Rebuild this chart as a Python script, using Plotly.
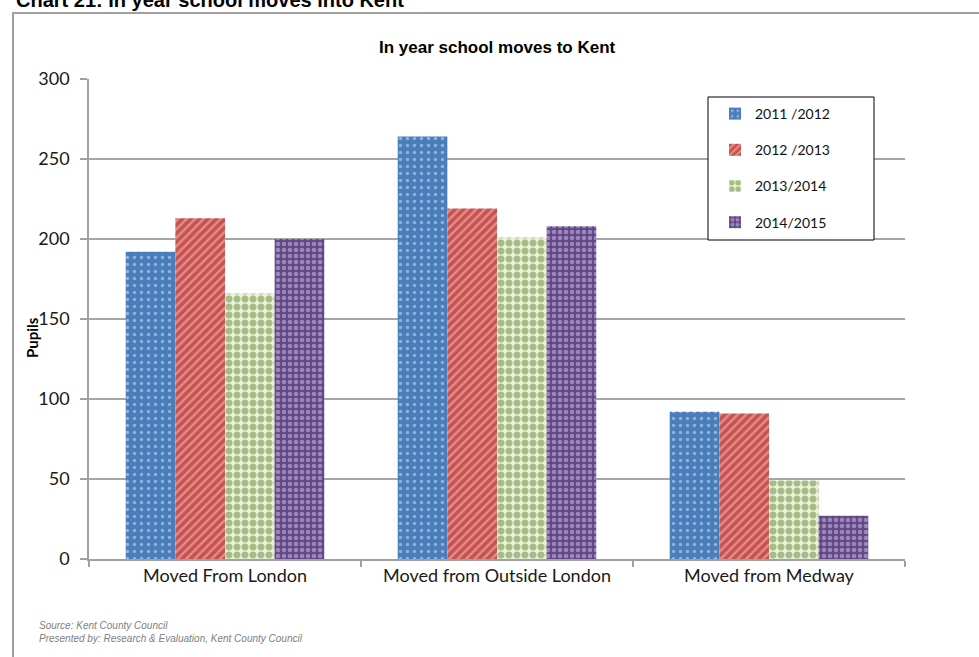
import plotly.graph_objects as go

categories = ["Moved From London", "Moved from Outside London", "Moved from Medway"]
series_names = ["2011 /2012", "2012 /2013", "2013/2014", "2014/2015"]
v_2011_2012 = [192, 264, 92]
v_2012_2013 = [213, 219, 91]
v_2013_2014 = [166, 201, 49]
v_2014_2015 = [200, 208, 27]
y_ticks = [0, 50, 100, 150, 200, 250, 300]

values = [v_2011_2012, v_2012_2013, v_2013_2014, v_2014_2015]
patterns = [
    dict(shape=".", bgcolor="#4A7EBB", fgcolor="#DCE6F4", size=7, solidity=0.18, fillmode="overlay"),
    dict(shape="/", bgcolor="#C9504D", fgcolor="#F2D0CF", size=6, solidity=0.4, fillmode="overlay"),
    dict(shape=".", bgcolor="#EAF0DC", fgcolor="#5F8A2C", size=8, solidity=0.6, fillmode="overlay"),
    dict(shape=".", bgcolor="#624889", fgcolor="#D3C8E2", size=6, solidity=0.45, fillmode="overlay"),
]
base_colors = ["#4A7EBB", "#C9504D", "#EAF0DC", "#624889"]

fig = go.Figure()
for i, (name, vals) in enumerate(zip(series_names, values)):
    fig.add_trace(go.Bar(
        x=categories, y=vals, name=name,
        legendgroup=f"g{i}",
        marker=dict(color=base_colors[i], pattern=patterns[i], line=dict(width=0)),
    ))

L, R, T, B = 89, 74, 79, 98
W, H = 979, 657
pw, ph = W - L - R, H - T - B

def px(xp):
    return (xp - L) / pw

def py(yp):
    return (H - B - yp) / ph

fig.update_layout(
    width=W, height=H,
    margin=dict(l=L, r=R, t=T, b=B, autoexpand=False),
    paper_bgcolor="white", plot_bgcolor="white",
    barmode="group", bargap=0.27, bargroupgap=0,
    font=dict(family="Lato", color="#262626"),
    showlegend=True,
    legend=dict(
        x=px(715), y=py(98), xanchor="left", yanchor="top",
        borderwidth=0, bgcolor="rgba(0,0,0,0)",
        font=dict(family="Lato", size=14, color="#111111"),
        traceorder="grouped", tracegroupgap=15,
    ),
    xaxis=dict(
        type="category", tickson="boundaries",
        showline=True, linecolor="#a0a0a0", linewidth=1.5,
        ticks="outside", ticklen=6, tickcolor="#a0a0a0", tickwidth=1.5,
        tickfont=dict(family="Lato", size=18, color="#1a1a1a"),
        showgrid=False,
    ),
    yaxis=dict(
        range=[0, 300], tickvals=y_ticks,
        showline=True, linecolor="#a0a0a0", linewidth=1.5,
        ticks="outside", ticklen=7, tickcolor="#a0a0a0", tickwidth=1.5,
        tickfont=dict(family="Lato", size=18, color="#1a1a1a"),
        ticklabelstandoff=7,
        showgrid=True, gridcolor="#a6a6a6", gridwidth=1.5,
        zeroline=False,
    ),
)

# outer frame
fig.add_shape(type="rect", xref="paper", yref="paper",
              x0=px(13), x1=px(1000), y0=py(700), y1=py(13),
              line=dict(color="#a0a0a0", width=2), fillcolor="rgba(0,0,0,0)", layer="below")

# legend box
fig.add_shape(type="rect", xref="paper", yref="paper",
              x0=px(708), x1=px(874), y0=py(240), y1=py(97),
              line=dict(color="black", width=1), fillcolor="white", layer="above")

fig.add_annotation(text="<b>Chart 21: In year school moves into Kent</b>",
                   xref="paper", yref="paper", x=px(14), y=py(13),
                   xanchor="left", yanchor="bottom", showarrow=False,
                   font=dict(family="Liberation Sans", size=20, color="black"))

fig.add_annotation(text="<b>In year school moves to Kent</b>",
                   xref="paper", yref="paper", x=0.5, y=py(47),
                   xanchor="center", yanchor="middle", showarrow=False,
                   font=dict(family="Liberation Sans", size=17, color="black"))

fig.add_annotation(text="<b>Pupils</b>",
                   xref="paper", yref="paper", x=px(32), y=py(338),
                   xanchor="center", yanchor="middle", textangle=-90, showarrow=False,
                   font=dict(family="Lato", size=15, color="black"))

fig.add_annotation(text="<i>Source: Kent County Council<br>Presented by: Research &amp; Evaluation, Kent County Council</i>",
                   xref="paper", yref="paper", x=px(37), y=py(632),
                   xanchor="left", yanchor="middle", align="left", showarrow=False,
                   font=dict(family="Liberation Sans", size=10, color="#808080"))

fig.write_html("out.html",
               config={"displayModeBar": False},
               post_script="document.body.style.margin='0';document.body.style.overflow='hidden';")
